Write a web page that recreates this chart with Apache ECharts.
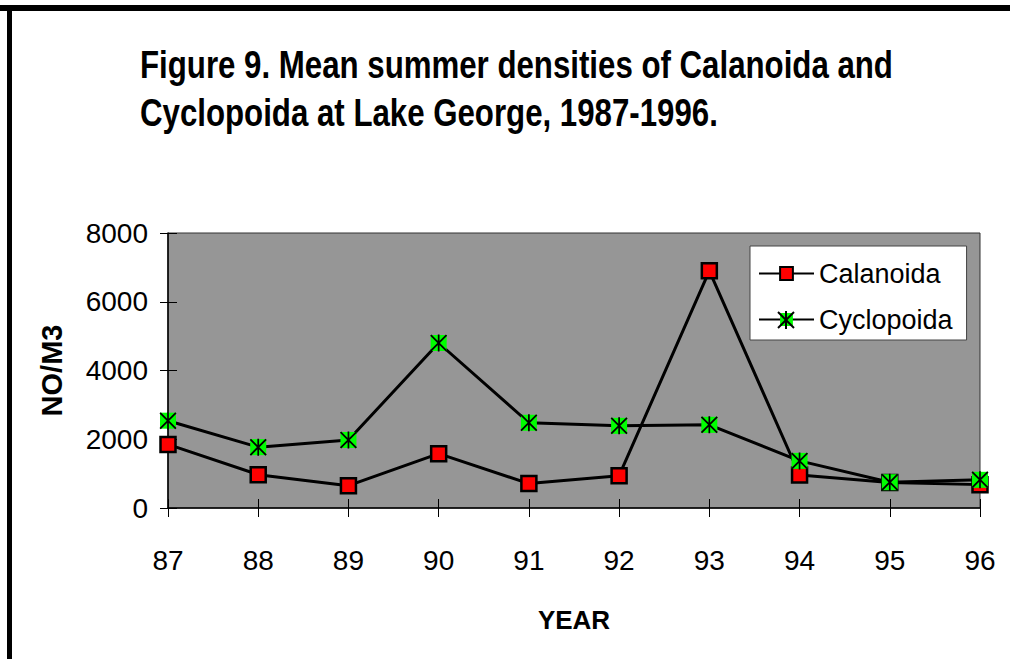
<!DOCTYPE html>
<html>
<head>
<meta charset="utf-8">
<script src="https://cdn.jsdelivr.net/npm/echarts@6/dist/echarts.min.js"></script>
<style>
  html, body { margin: 0; padding: 0; background: #fff; }
  #main { width: 1010px; height: 659px; }
</style>
</head>
<body>
<div id="main"></div>
<script>
// data
const years = ['87', '88', '89', '90', '91', '92', '93', '94', '95', '96'];
const calanoida = [1850, 970, 650, 1580, 710, 940, 6900, 960, 740, 680];
const cyclopoida = [2540, 1770, 1980, 4800, 2480, 2390, 2420, 1370, 750, 820];
const yTicks = [0, 2000, 4000, 6000, 8000];
const titleLines = [
  'Figure 9. Mean summer densities of Calanoida and',
  'Cyclopoida at Lake George, 1987-1996.'
];

const asterisk = 'path://M9,0H11V20H9Z M0,1.5L1.5,0L20,18.5L18.5,20Z M18.5,0L20,1.5L1.5,20L0,18.5Z';
const font = 'Liberation Sans, Arial, sans-serif';

let myChart = echarts.init(document.getElementById('main'), null, { renderer: 'svg' });

// the title is set in a narrow bold face: squeeze it sideways
let titleText = titleLines.map((t, i) => ({
  type: 'text',
  x: 140,
  y: 65 + i * 48,
  scaleX: 0.822,
  style: {
    text: t,
    x: 0, y: 0,
    fill: '#000',
    fontFamily: font,
    fontSize: 38,
    fontWeight: 'bold',
    verticalAlign: 'middle'
  }
}));

let option = {
  backgroundColor: '#fff',
  animation: false,
  legend: {
    orient: 'vertical',
    left: 750,
    top: 246,
    padding: [14, 14, 7, 8],
    itemGap: 19,
    itemWidth: 55,
    itemHeight: 16,
    backgroundColor: '#fff',
    borderColor: '#444',
    borderWidth: 1,
    data: ['Calanoida', 'Cyclopoida'],
    textStyle: { fontFamily: font, fontSize: 27, color: '#000' }
  },
  grid: {
    left: 168,
    right: 30,
    top: 233,
    bottom: 151,
    show: true,
    backgroundColor: '#969696',
    borderColor: '#333',
    borderWidth: 1
  },
  xAxis: [
    {
      type: 'category',
      data: years,
      boundaryGap: false,
      name: 'YEAR',
      nameLocation: 'middle',
      nameGap: 99,
      nameTextStyle: { fontFamily: font, fontSize: 26, fontWeight: 'bold', color: '#000' },
      axisLine: { lineStyle: { color: '#000', width: 1.5 } },
      axisTick: { alignWithLabel: true, length: 9, lineStyle: { color: '#000' } },
      axisLabel: { margin: 38, fontFamily: font, fontSize: 28, color: '#000' },
      splitLine: { show: false }
    },
    {
      type: 'category',
      data: years,
      boundaryGap: false,
      position: 'bottom',
      axisLine: { show: false },
      axisTick: { inside: true, length: 9, lineStyle: { color: '#000' } },
      axisLabel: { show: false },
      splitLine: { show: false }
    }
  ],
  yAxis: [
    {
      type: 'value',
      min: yTicks[0],
      max: yTicks[yTicks.length - 1],
      interval: 2000,
      name: 'NO/M3',
      nameLocation: 'middle',
      nameGap: 102,
      nameTextStyle: { fontFamily: font, fontSize: 29, fontWeight: 'bold', color: '#000' },
      axisLine: { show: true, lineStyle: { color: '#000', width: 1.5 } },
      axisTick: { show: true, length: 8, lineStyle: { color: '#000' } },
      axisLabel: {
        margin: 20, fontFamily: font, fontSize: 28, color: '#000',
        formatter: v => String(v)
      },
      splitLine: { show: false }
    },
    {
      type: 'value',
      min: yTicks[0],
      max: yTicks[yTicks.length - 1],
      interval: 2000,
      position: 'left',
      axisLine: { show: false },
      axisTick: { show: true, inside: true, length: 9, lineStyle: { color: '#000' } },
      axisLabel: { show: false },
      splitLine: { show: false }
    }
  ],
  // frame round the picture, title, and the asterisk on the legend key
  graphic: [
    { type: 'rect', shape: { x: 0, y: 5, width: 1010, height: 6 }, style: { fill: '#000' } },
    { type: 'rect', shape: { x: 7, y: 5, width: 5, height: 654 }, style: { fill: '#000' } },
    ...titleText,
    { type: 'line', z: 100, shape: { x1: 786, y1: 311, x2: 786, y2: 329 }, style: { stroke: '#000', lineWidth: 2 } },
    { type: 'line', z: 100, shape: { x1: 778, y1: 312, x2: 794, y2: 328 }, style: { stroke: '#000', lineWidth: 2 } },
    { type: 'line', z: 100, shape: { x1: 794, y1: 312, x2: 778, y2: 328 }, style: { stroke: '#000', lineWidth: 2 } }
  ],
  series: [
    {
      name: 'Calanoida',
      type: 'line',
      data: calanoida,
      symbol: 'rect',
      symbolSize: 15,
      lineStyle: { color: '#000', width: 3 },
      itemStyle: { color: '#ff0000', borderColor: '#000', borderWidth: 2.5 },
      z: 3
    },
    {
      name: 'Cyclopoida',
      type: 'line',
      data: cyclopoida,
      symbol: 'rect',
      symbolSize: 16,
      lineStyle: { color: '#000', width: 3 },
      itemStyle: { color: '#00ff00', borderWidth: 0 },
      z: 4
    },
    {
      name: 'cyclo-mark',
      type: 'line',
      data: cyclopoida,
      symbol: asterisk,
      symbolSize: 17,
      lineStyle: { width: 0, opacity: 0 },
      itemStyle: { color: '#000' },
      z: 5
    }
  ]
};

myChart.setOption(option);
</script>
</body>
</html>
